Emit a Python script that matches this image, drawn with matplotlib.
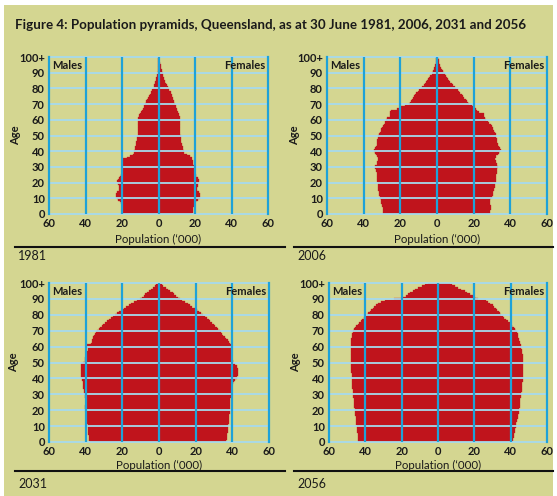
import matplotlib
matplotlib.use("Agg")
import matplotlib.pyplot as plt
from matplotlib.patches import Rectangle
from matplotlib.lines import Line2D
import numpy as np

plt.rcParams['font.family'] = ['Lato', 'DejaVu Sans']

ages = list(range(0, 101))
years = ["1981", "2006", "2031", "2056"]

m1981 = [19.3,19.3,19.4,19.5,19.6, 19.8,20.0,20.3,21.0,22.0, 23.0,23.4,23.4,23.2,22.6,
         21.8,21.5,21.5,21.8,22.0, 22.4,22.5,22.2,21.6,21.0, 20.5,20.2,20.0,19.8,19.8,
         19.7,19.7,19.6,19.6,19.6, 19.4,17.5,15.5,14.2,13.5, 13.2,13.0,13.0,12.8,12.6,
         12.4,12.2,12.0,11.8,11.7, 11.5,11.4,11.3,11.3,11.3, 11.3,11.3,11.3,11.2,11.2,
         11.2,11.0,10.8,10.5,10.0, 9.4,9.0,8.6,8.2,7.8, 7.2,6.8,6.6,6.2,5.6,
         5.0,4.6,4.3,4.0,3.6, 3.0,2.6,2.3,2.0,1.8, 1.6,1.4,1.2,1.0,0.8,
         0.6,0.5,0.4,0.3,0.25, 0.2,0.15,0.1,0.08,0.05, 0.05]
f1981 = [18.6,18.7,18.8,18.9,19.0, 19.2,19.5,19.8,20.5,21.5, 22.5,23.0,23.0,22.8,22.2,
         21.2,21.0,21.0,21.4,21.8, 22.2,22.4,22.0,21.4,20.8, 20.3,20.0,19.8,19.6,19.5,
         19.3,19.2,19.0,18.8,18.8, 18.6,18.4,17.5,15.5,14.2, 13.8,13.5,13.3,13.2,13.0,
         12.8,12.6,12.4,12.3,12.2, 12.1,12.0,12.0,12.0,12.0, 12.0,12.0,12.0,11.9,11.9,
         11.8,11.7,11.6,11.4,11.0, 10.6,10.3,10.0,9.8,9.5, 9.0,8.6,8.4,8.2,8.0,
         7.6,7.3,7.0,6.6,6.0, 5.6,5.0,4.6,4.2,3.8, 3.4,3.1,2.8,2.6,2.4,
         2.2,2.0,1.8,1.5,1.3, 1.1,0.9,0.5,0.3,0.1, 0.1]

m2006 = [29.3,29.3,29.4,29.5,29.6, 29.8,30.0,30.3,30.6,30.8, 31.0,31.2,31.4,31.6,31.8,
         32.0,32.0,32.2,32.2,32.4, 32.4,32.6,32.6,32.8,32.8, 33.0,33.0,33.2,33.4,33.6,
         33.8,33.6,33.0,32.6,32.4, 32.2,32.4,32.8,33.2,33.8, 34.6,34.4,33.8,33.4,33.0,
         32.8,32.6,32.6,32.4,32.2, 32.0,31.6,31.2,30.8,30.4, 30.0,29.6,29.0,28.6,28.2,
         27.8,27.4,25.8,25.8,25.6, 25.5,25.0,22.0,20.0,17.5, 15.5,15.0,14.4,13.8,13.0,
         12.4,11.8,11.2,10.4,9.6, 8.8,8.0,7.2,6.6,6.0, 5.4,4.8,4.2,3.6,3.0,
         2.6,2.2,1.8,1.5,1.2, 1.0,0.8,0.6,0.5,0.4, 0.3]
f2006 = [29.0,29.0,29.1,29.2,29.3, 29.2,29.0,28.8,28.8,29.0, 29.6,30.0,30.3,30.6,30.8,
         31.0,31.2,31.4,31.6,31.8, 32.0,32.0,32.2,32.2,32.4, 32.4,32.6,32.6,32.8,32.8,
         33.0,32.8,32.6,32.4,32.0, 31.8,32.0,32.4,33.0,33.8, 34.6,34.8,34.2,33.6,33.2,
         33.0,32.8,32.8,32.6,32.4, 32.2,32.0,31.6,31.2,30.8, 30.6,30.0,29.4,28.6,27.6,
         26.8,26.2,25.8,25.6,25.4, 23.0,22.0,21.0,20.0,19.0, 17.6,17.0,16.4,15.6,14.8,
         14.0,13.4,12.8,12.0,11.2, 10.4,9.6,8.8,8.0,7.2, 6.6,6.0,5.4,4.8,4.4,
         4.0,3.4,2.8,2.2,1.8, 1.4,1.2,1.0,0.9,0.8, 0.8]

m2031 = [37.8,38.0,38.2,38.3,38.4, 38.5,38.6,38.7,38.8,38.9, 39.0,39.0,39.1,39.2,39.2,
         39.3,39.4,39.5,39.6,39.8, 40.2,40.4,40.4,40.2,40.0, 39.8,39.8,40.0,40.2,40.4,
         40.6,40.8,41.0,41.0,41.2, 41.2,41.2,41.4,41.6,41.8, 42.2,42.4,42.6,42.6,42.8,
         42.8,42.8,42.8,42.8,42.6, 41.4,40.6,40.4,40.2,40.0, 39.8,39.6,39.2,38.8,38.8,
         39.6,39.2,37.0,36.6,36.4, 36.2,36.0,35.4,34.8,34.2, 33.6,32.8,32.0,31.2,30.4,
         29.6,28.6,27.4,26.2,25.0, 24.0,22.8,21.6,20.4,19.2, 18.0,16.6,15.2,13.6,12.0,
         10.4,9.4,8.4,7.4,6.4, 5.4,4.4,3.2,2.2,1.4, 0.6]
f2031 = [36.6,36.8,37.0,37.1,37.2, 37.3,37.4,37.5,37.6,37.7, 37.8,37.9,38.0,38.0,38.1,
         38.2,38.3,38.4,38.5,38.6, 38.8,38.9,38.9,38.8,38.7, 38.7,38.8,38.9,39.0,39.1,
         39.2,39.3,39.4,39.4,39.5, 39.6,39.8,40.2,41.0,41.6, 42.4,42.8,43.0,43.2,43.2,
         43.2,43.0,42.8,42.4,41.6, 40.6,40.2,39.8,39.6,39.6, 39.4,39.2,39.2,39.4,39.8,
         40.0,39.6,38.8,38.0,37.4, 36.6,35.8,35.0,34.4,33.8, 33.0,32.2,31.4,30.6,29.8,
         29.0,28.0,27.0,26.0,25.0, 24.0,23.0,21.8,20.6,19.4, 18.2,17.0,15.6,14.2,12.8,
         11.4,10.4,9.4,8.4,7.4, 6.2,5.0,3.6,2.4,1.4, 0.6]

m2056 = [43.8,44.0,44.0,44.1,44.2, 44.3,44.4,44.5,44.6,44.7, 44.8,44.9,45.0,45.1,45.2,
         45.3,45.4,45.5,45.6,45.7, 45.8,45.9,46.0,46.1,46.2, 46.3,46.4,46.5,46.6,46.7,
         46.8,46.9,47.0,47.0,47.1, 47.2,47.2,47.3,47.4,47.4, 47.5,47.5,47.6,47.6,47.7,
         47.7,47.8,47.8,47.8,47.9, 47.9,47.9,48.0,48.0,48.0, 48.0,48.0,48.0,48.0,48.0,
         48.0,48.0,48.0,47.9,47.8, 47.8,47.6,47.4,47.2,47.0, 46.8,46.0,45.6,45.0,44.2,
         43.4,42.6,41.8,41.0,40.2, 39.0,38.4,37.6,36.8,36.0, 35.0,34.2,33.0,31.4,29.0,
         24.0,19.0,17.5,16.5,15.5, 14.0,12.4,10.9,9.0,7.2, 5.5]
f2056 = [41.0,41.2,41.4,41.6,41.8, 42.0,42.2,42.4,42.6,42.8, 42.8,43.0,43.2,43.4,43.6,
         43.8,44.0,44.2,44.4,44.6, 44.6,44.8,45.0,45.0,45.2, 45.2,45.4,45.4,45.6,45.6,
         45.8,45.8,46.0,46.0,46.2, 46.2,46.4,46.4,46.6,46.6, 46.8,46.8,46.8,47.0,47.0,
         47.0,47.0,47.0,47.0,47.0, 47.0,47.0,46.8,46.8,46.6, 46.6,46.4,46.2,46.0,45.9,
         45.8,45.6,45.4,45.2,44.8, 44.5,44.2,44.0,43.8,43.6, 43.0,42.4,41.8,41.0,40.2,
         39.4,38.6,37.6,36.6,35.6, 34.6,34.0,33.4,32.6,31.8, 31.0,30.0,28.8,27.6,26.2,
         22.0,20.4,19.0,17.6,16.2, 14.6,12.8,11.0,9.2,7.6, 6.4]

males = [m1981, m2006, m2031, m2056]
females = [f1981, f2006, f2031, f2056]

xticks = [-60, -40, -20, 0, 20, 40, 60]
xticklabels = ["60", "40", "20", "0", "20", "40", "60"]
yticks = list(range(0, 101, 10))
yticklabels = ["0", "10", "20", "30", "40", "50", "60", "70", "80", "90", "100+"]

W, H = 557, 496
KHAKI = "#d4d691"
RED = "#c0141c"
BLUE = "#1ea2d8"
LBLUE = "#a6daec"
TXT = "#1a1a1a"

fig = plt.figure(figsize=(W / 100, H / 100), dpi=100)
fig.patch.set_facecolor("white")
fig.add_artist(Rectangle((4 / W, 0), (553 - 4) / W, (H - 5) / H,
                         transform=fig.transFigure, facecolor=KHAKI,
                         edgecolor="none", zorder=-10))

fig.text(15 / W, 1 - 25 / H,
         "Figure 4: Population pyramids, Queensland, as at 30 June 1981, 2006, 2031 and 2056",
         fontsize=9.6, fontweight="bold", color=TXT, va="center", ha="left")

# panel boxes in pixels: (left, top, right, bottom)
boxes = [(49, 57, 268, 214), (327, 57, 547, 214),
         (49, 283, 269, 442), (329, 283, 547, 442)]
seps = [(15, 285, 247), (294, 553, 247), (15, 285, 471), (294, 553, 471)]
labpos = [(18, 256), (297, 256), (18, 484), (297, 484)]
xlab_y = [239, 239, 465, 465]
agelab_x = [21, 300, 19, 301]

for i in range(4):
    l, t, r, b = boxes[i]
    ax = fig.add_axes([l / W, (H - b) / H, (r - l) / W, (b - t) / H])
    ax.set_facecolor(KHAKI)
    ax.barh(ages, [-v for v in males[i]], height=1.0, color=RED,
            edgecolor=RED, linewidth=0.2, zorder=1)
    ax.barh(ages, females[i], height=1.0, color=RED,
            edgecolor=RED, linewidth=0.2, zorder=1)
    ax.set_xlim(-60, 60)
    ax.set_ylim(0, 100)
    ax.set_xticks(xticks)
    ax.set_xticklabels(xticklabels)
    ax.set_yticks(yticks)
    ax.set_yticklabels(yticklabels)
    for tx in xticks[1:-1]:
        ax.axvline(tx, color=BLUE, lw=1.6, zorder=4)
    for ty in yticks[1:-1]:
        ax.axhline(ty, color=LBLUE, lw=1.3, zorder=3)
    for s in ("left", "right"):
        ax.spines[s].set_color(BLUE)
        ax.spines[s].set_linewidth(1.6)
        ax.spines[s].set_zorder(5)
    for s in ("top", "bottom"):
        ax.spines[s].set_color(LBLUE)
        ax.spines[s].set_linewidth(1.3)
        ax.spines[s].set_zorder(3)
    ax.tick_params(length=0, pad=3, labelsize=8, labelcolor=TXT)
    for lab in ax.get_xticklabels() + ax.get_yticklabels():
        lab.set_fontweight("bold")
    ax.set_ylabel("Age", fontsize=8, fontweight="bold", color=TXT)
    ax.yaxis.set_label_coords((agelab_x[i] - l) / (r - l), 0.5)
    ax.text(-58.5, 94.5, "Males", fontsize=8, fontweight="bold", color=TXT,
            ha="left", va="center", zorder=6)
    ax.text(58.5, 94.5, "Females", fontsize=8, fontweight="bold", color=TXT,
            ha="right", va="center", zorder=6)
    fig.text(((l + r) / 2) / W, 1 - xlab_y[i] / H, "Population (\u2018000)",
             fontsize=8.3, color=TXT, ha="center", va="center")
    x0, x1, ys = seps[i]
    fig.add_artist(Line2D([x0 / W, x1 / W], [1 - ys / H, 1 - ys / H],
                          transform=fig.transFigure, color="#111111", lw=1.5))
    lx, ly = labpos[i]
    fig.text(lx / W, 1 - ly / H, years[i], fontsize=9, color=TXT,
             ha="left", va="center")

fig.savefig("out.png", dpi=100, facecolor=fig.get_facecolor())
